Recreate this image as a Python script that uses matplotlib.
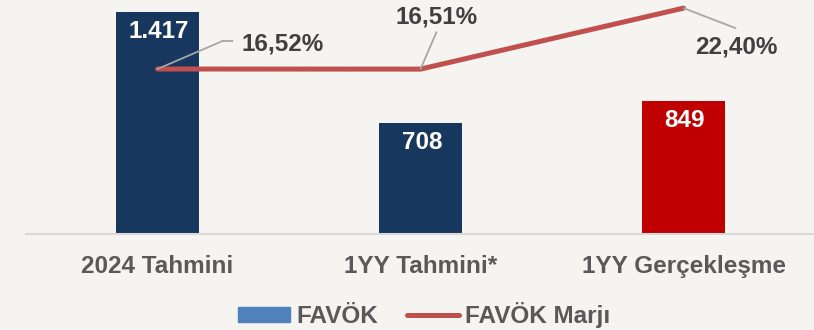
import matplotlib.pyplot as plt
from matplotlib.patches import Patch
from matplotlib.lines import Line2D
from matplotlib.transforms import offset_copy

plt.rcParams['font.family'] = ['Liberation Sans', 'DejaVu Sans']
plt.rcParams['font.weight'] = 'bold'

kategoriler = ['2024 Tahmini', '1YY Tahmini*', '1YY Gerçekleşme']
favok = [1417, 708, 849]
favok_etiket = ['1.417', '708', '849']
marj = [16.52, 16.51, 22.40]
marj_etiket = ['16,52%', '16,51%', '22,40%']

arka = '#F5F4F0'
bar_renk = ['#17375E', '#17375E', '#C00000']
cizgi_renk = '#C0504D'
yazi_renk = '#404040'
bag_renk = '#A6A6A6'

fig = plt.figure(figsize=(8.14, 3.3), dpi=100, facecolor=arka)
ax = fig.add_axes([26 / 814, 96 / 330, 789 / 814, 229 / 330])
ax.set_facecolor(arka)

x = list(range(len(kategoriler)))
ax.bar(x, favok, width=0.316, color=bar_renk, zorder=2)
ax.set_xlim(-0.5, 2.5)
ax.set_ylim(0, 1461.7)

for xi, v, t in zip(x, favok, favok_etiket):
    ax.annotate(t, (xi, v), xytext=(1, -6), textcoords='offset points',
                ha='center', va='top', color='white', fontsize=17.5,
                fontweight='bold', zorder=4)

for s in ['top', 'right', 'left']:
    ax.spines[s].set_visible(False)
ax.spines['bottom'].set_color('#D9D9D9')
ax.spines['bottom'].set_linewidth(1.5)
ax.set_yticks([])
ax.set_xticks(x)
ax.set_xticklabels(kategoriler, fontsize=17.5, fontweight='bold', color='#595959')
ax.tick_params(axis='x', length=0, pad=15)

# marj çizgisi ikinci eksende
ax2 = ax.twinx()
ax2.set_ylim(0.59, 22.70)
ax2.axis('off')
ax2.plot(x, marj, color=cizgi_renk, lw=3.6, solid_capstyle='round',
         solid_joinstyle='round', zorder=3)

# etiketler ve bağlantı çizgileri (piksel ofsetleri)
kaymalar = [(65, 28, 84, 25), (16, 37, 16, 52), (52, -20, 53, -39)]
for xi, v, t, (lx, ly, tx, ty) in zip(x, marj, marj_etiket, kaymalar):
    ax2.annotate('', (xi, v), xytext=(lx * 0.72, ly * 0.72),
                 textcoords='offset points',
                 arrowprops=dict(arrowstyle='-', color=bag_renk, lw=1.3,
                                 shrinkA=0, shrinkB=0))
    ax2.annotate(t, (xi, v), xytext=(tx * 0.72, ty * 0.72),
                 textcoords='offset points', ha='left' if xi == 0 else 'center',
                 va='center', fontsize=17.5, fontweight='bold', color=yazi_renk)

# ilk etiketin yatay kolu
dirsek = offset_copy(ax2.transData, fig=fig, x=65, y=28, units='dots')
ax2.annotate('', (0, marj[0]), xycoords=dirsek, xytext=(10 * 0.72, 0),
             textcoords='offset points',
             arrowprops=dict(arrowstyle='-', color=bag_renk, lw=1.3,
                             shrinkA=0, shrinkB=0))

tutucular = [Patch(color='#4F81BD'),
             Line2D([0], [0], color=cizgi_renk, lw=3.6, solid_capstyle='round')]
fig.legend(tutucular, ['FAVÖK', 'FAVÖK Marjı'], loc='center',
           bbox_to_anchor=(424 / 814, 15 / 330), ncol=2, frameon=False,
           labelcolor='#595959', handlelength=2.15,
           handleheight=0.55, handletextpad=0.25, columnspacing=1.2,
           prop={'weight': 'bold', 'size': 17.5})

fig.savefig('out.png', dpi=100, facecolor=arka)
